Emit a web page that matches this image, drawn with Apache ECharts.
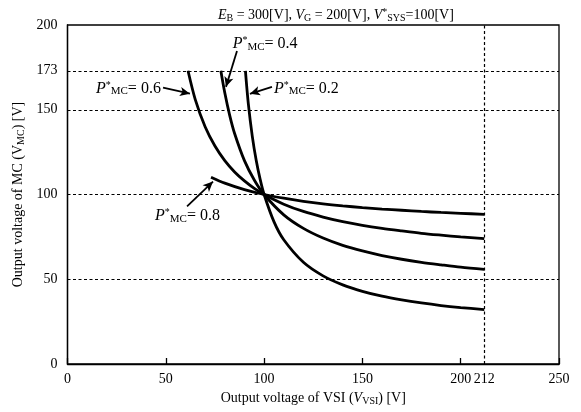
<!DOCTYPE html>
<html><head><meta charset="utf-8">
<script src="https://cdn.jsdelivr.net/npm/echarts@6/dist/echarts.min.js"></script>
<style>html,body{margin:0;padding:0;background:#fff}#c{width:581px;height:412px}</style>
</head><body><div id="c"></div>
<script>
// Data: [V_VSI, V_MC]
const curveP02 = [[90.5,173],[92,153.3],[94,134.3],[96,120],[98,108.9],[100,100],[105,84],[110,73.3],[120,60],[130,52],[140,46.7],[150,42.9],[160,40],[170,37.8],[180,36],[190,34.5],[200,33.3],[212,32.1]];
const curveP04 = [[78,173],[80,160],[82.5,146.7],[85,136],[90,120],[95,108.6],[100,100],[110,88],[120,80],[130,74.3],[140,70],[150,66.7],[160,64],[170,61.8],[180,60],[190,58.5],[200,57.1],[212,55.8]];
const curveP06 = [[61.3,173],[65,156],[70,140],[75,128.6],[80,120],[85,113.3],[90,108],[95,103.6],[100,100],[110,94.3],[120,90],[130,86.7],[140,84],[150,81.8],[160,80],[170,78.5],[180,77.1],[190,76],[200,75],[212,74]];
const curveP08 = [[73,110.2],[80,106.7],[90,102.9],[100,100],[110,97.8],[120,96],[130,94.5],[140,93.3],[150,92.3],[160,91.4],[170,90.7],[180,90],[190,89.4],[200,88.9],[212,88.3]];
const xTickValues = [0,50,100,150,200,250];
const xLabelValues = [0,50,100,150,200,212,250];
const yTickValues = [0,50,100,150,200];
const yLabelValues = [0,50,100,150,173,200];
const hGrid = [50,100,150,173];
const vGrid = [212];
// annotations: label text value, arrow start, arrow tip, label anchor
const annotations = [
  {p:'0.4', from:[86.2,184.7], to:[80.6,163.5], at:[84,189], align:'left'},
  {p:'0.6', from:[48.6,163], to:[62.3,159.5], at:[47.5,162.5], align:'right'},
  {p:'0.2', from:[104,163.5], to:[92.8,159.4], at:[105,162.5], align:'left'},
  {p:'0.8', from:[60.8,93], to:[74,107.6], at:[44.5,87.5], align:'left'}
];

const FONT = '"Liberation Serif","DejaVu Serif",serif';
const chart = echarts.init(document.getElementById('c'));
const rich = {
  i:{fontFamily:FONT,fontStyle:'italic',fontWeight:'normal',fontSize:16,color:'#000'},
  s:{fontFamily:FONT,fontWeight:'normal',fontSize:11,color:'#000',verticalAlign:'bottom',padding:[6,0,0,0]},
  sup:{fontFamily:FONT,fontWeight:'normal',fontSize:10,color:'#000',verticalAlign:'top',padding:[0,0,6,0]},
  t:{fontFamily:FONT,fontWeight:'normal',fontSize:16,color:'#000'}
};
const lineSeries = (d) => ({type:'line',data:d,smooth:0.3,showSymbol:false,symbol:'none',lineStyle:{color:'#000',width:2.8},z:5});
const dash = {color:'#000',width:1.2,type:[3,2.5]};
chart.setOption({
  animation:false,
  title:{left:213,top:2,text:'{i|E}{s|B}{t| = 300[V], }{i|V}{s|G}{t| = 200[V], }{i|V}{sup|*}{s|SYS}{t|=100[V]}',
    textStyle:{fontWeight:'normal',rich:{i:{...rich.i,fontSize:14},s:{...rich.s,fontSize:10},sup:rich.sup,t:{...rich.t,fontSize:14}}}},
  grid:{left:67.5,right:22,top:25,bottom:48,show:true,borderColor:'#000',borderWidth:1.3},
  xAxis:{type:'value',min:0,max:250,
    name:'{t|Output voltage of VSI (}{i|V}{s|VSI}{t|) [V]}',nameLocation:'middle',nameGap:26,
    nameTextStyle:{rich:{t:{...rich.t,fontSize:14},i:{...rich.i,fontSize:14},s:{...rich.s,fontSize:10}}},
    axisLine:{show:true,lineStyle:{color:'#000',width:1.3}},
    axisTick:{show:true,inside:true,length:6,customValues:xTickValues,lineStyle:{color:'#000',width:1.3}},
    axisLabel:{customValues:xLabelValues,fontFamily:FONT,fontSize:14,color:'#000',margin:8},
    splitLine:{show:false}},
  yAxis:{type:'value',min:0,max:200,
    name:'{t|Output voltage of MC (V}{s|MC}{t|) [V]}',nameLocation:'middle',nameGap:41,nameMoveOverlap:false,
    nameTextStyle:{rich:{t:{...rich.t,fontSize:14},s:{...rich.s,fontSize:10}}},
    axisLine:{show:true,lineStyle:{color:'#000',width:1.3}},
    axisTick:{show:false,customValues:yTickValues},
    axisLabel:{customValues:yLabelValues,fontFamily:FONT,fontSize:14,color:'#000',margin:10},
    splitLine:{show:false}},
  series:[
    {...lineSeries(curveP02),
      markLine:{silent:true,symbol:'none',label:{show:false},lineStyle:dash,
        data:[...hGrid.map(v=>({yAxis:v})),...vGrid.map(v=>({xAxis:v}))]}},
    lineSeries(curveP04),
    lineSeries(curveP06),
    {...lineSeries(curveP08),
      markLine:{silent:true,symbol:['none','arrow'],symbolSize:[7,10],label:{show:false},
        lineStyle:{color:'#000',width:1.8,type:'solid'},
        data:annotations.map(a=>[{coord:a.from},{coord:a.to}])},
      markPoint:{silent:true,symbol:'circle',symbolSize:0,
        data:annotations.map(a=>({coord:a.at,label:{show:true,position:a.align==='left'?'right':'left',distance:0,
          formatter:'{i|P}{sup|*}{s|MC}{t|= '+a.p+'}',rich:rich}}))}}
  ]
});
</script></body></html>
